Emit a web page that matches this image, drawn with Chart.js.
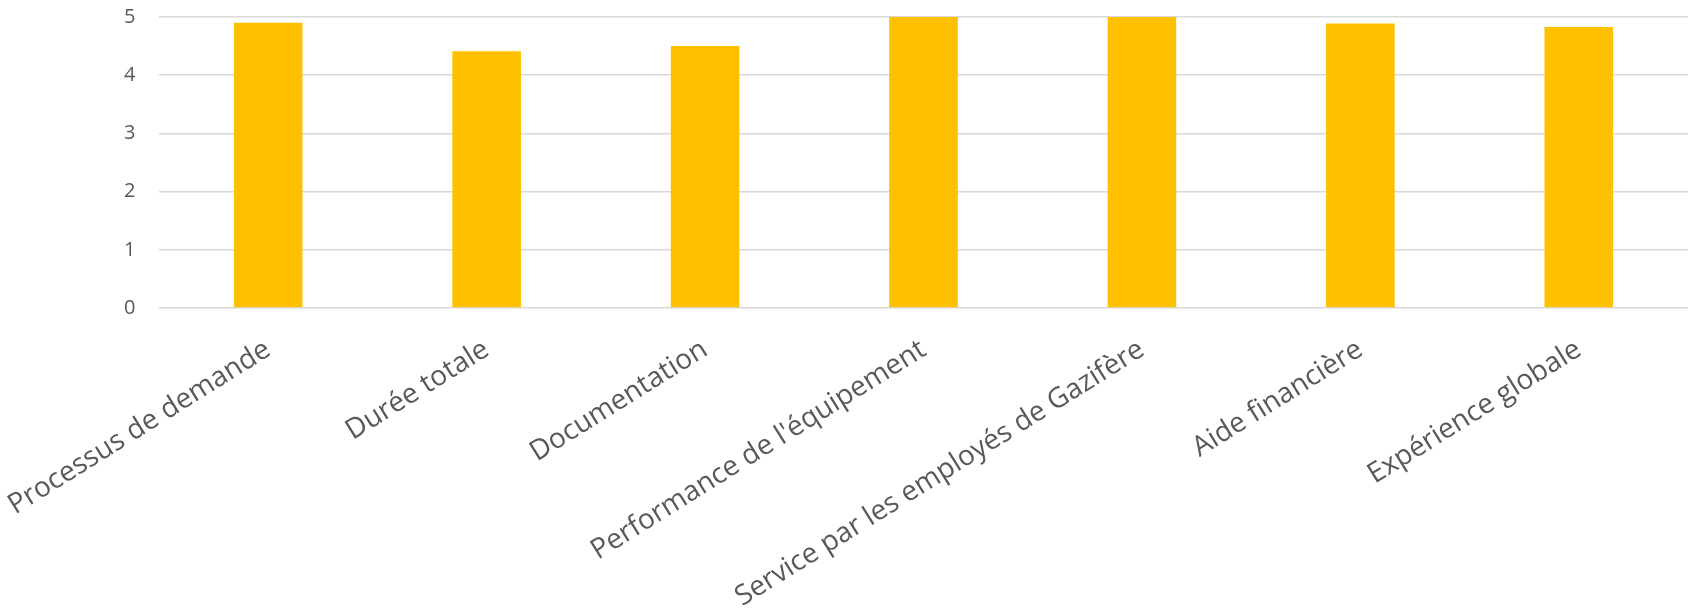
<!DOCTYPE html>
<html>
<head>
<meta charset="utf-8">
<script src="https://cdn.jsdelivr.net/npm/chart.js@4"></script>
<style>
  html, body { margin: 0; padding: 0; background: #ffffff; }
  #wrap { width: 1688px; height: 609px; position: relative; }
</style>
</head>
<body>
<div id="wrap"><canvas id="chart"></canvas></div>
<script>
// Categories and average scores
const categories = [
    'Processus de demande',
    'Durée totale',
    'Documentation',
    "Performance de l'équipement",
    'Service par les employés de Gazifère',
    'Aide financière',
    'Expérience globale'
];
const scores = [4.9, 4.41, 4.5, 5.0, 5.0, 4.89, 4.83];
const yTicks = [0, 1, 2, 3, 4, 5];

const barColor = '#FFC000';
const gridColor = '#D9D9D9';
const textColor = '#595959';

new Chart(document.getElementById('chart'), {
    type: 'bar',
    data: {
        labels: categories,
        datasets: [{
            label: 'Score',
            data: scores,
            backgroundColor: barColor,
            borderWidth: 0,
            barPercentage: 1,
            categoryPercentage: 0.314
        }]
    },
    options: {
        responsive: true,
        maintainAspectRatio: false,
        animation: false,
        layout: { padding: { top: 17, right: 0, left: 124, bottom: 0 } },
        plugins: {
            legend: { display: false },
            tooltip: { enabled: false }
        },
        scales: {
            x: {
                grid: { display: false, drawTicks: false },
                border: { display: false },
                ticks: {
                    color: textColor,
                    font: { family: 'Open Sans', size: 28 },
                    minRotation: 32,
                    maxRotation: 32,
                    autoSkip: false,
                    padding: 25
                },
                afterFit: function(scale) {
                    // keep the plot edges where the reference has them
                    scale.height = 301;
                    scale.paddingLeft = 0;
                    scale.paddingRight = 0;
                }
            },
            y: {
                min: 0,
                max: 5,
                afterBuildTicks: function(scale) {
                    scale.ticks = yTicks.map(v => ({ value: v }));
                },
                grid: { color: gridColor, lineWidth: 1.5, drawTicks: false },
                border: { display: false },
                ticks: {
                    color: textColor,
                    font: { family: 'Open Sans', size: 20 },
                    crossAlign: 'far',
                    padding: 0
                },
                afterFit: function(scale) { scale.width = 35; }
            }
        }
    }
});
</script>
</body>
</html>
